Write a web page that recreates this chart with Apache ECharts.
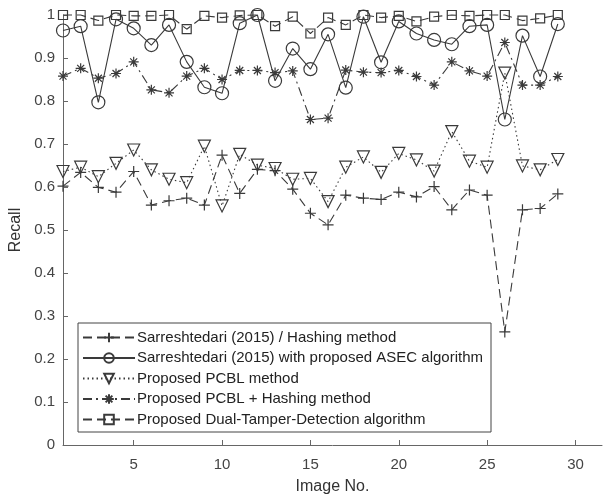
<!DOCTYPE html>
<html>
<head>
<meta charset="utf-8">
<script src="https://cdn.jsdelivr.net/npm/echarts@6/dist/echarts.min.js"></script>
<style>
  html, body { margin: 0; padding: 0; background: #fff; }
  #main { width: 603px; height: 500px; }
</style>
</head>
<body>
<div id="main"></div>
<script>
var imageNo = [1,2,3,4,5,6,7,8,9,10,11,12,13,14,15,16,17,18,19,20,21,22,23,24,25,26,27,28,29];
var xTicks = [5,10,15,20,25,30];

var hashing = [0.602,0.634,0.599,0.588,0.636,0.558,0.568,0.574,0.558,0.674,0.585,0.641,0.638,0.595,0.539,0.512,0.581,0.574,0.571,0.588,0.577,0.601,0.547,0.593,0.581,0.263,0.547,0.550,0.584];
var asec = [0.964,0.974,0.797,0.990,0.969,0.930,0.977,0.891,0.832,0.818,0.981,1.0,0.847,0.922,0.874,0.955,0.831,0.996,0.890,0.985,0.957,0.942,0.932,0.974,0.977,0.757,0.952,0.857,0.979];
var pcbl = [0.636,0.646,0.624,0.655,0.686,0.640,0.618,0.610,0.695,0.556,0.676,0.651,0.643,0.618,0.620,0.566,0.646,0.670,0.634,0.678,0.663,0.637,0.729,0.660,0.646,0.865,0.649,0.640,0.664];
var pcblHash = [0.858,0.876,0.853,0.864,0.891,0.826,0.819,0.858,0.876,0.850,0.871,0.871,0.866,0.870,0.757,0.760,0.872,0.867,0.866,0.871,0.857,0.837,0.891,0.870,0.858,0.936,0.837,0.837,0.857];
var dual = [1.0,1.0,0.987,1.0,0.998,0.998,1.0,0.967,0.998,0.994,0.999,1.0,0.974,0.996,0.957,0.994,0.977,1.0,0.994,0.998,0.985,0.996,1.0,0.998,1.0,1.0,0.987,0.992,1.0];

var seriesNames = [
  'Sarreshtedari (2015) / Hashing method',
  'Sarreshtedari (2015) with proposed ASEC algorithm',
  'Proposed PCBL method',
  'Proposed PCBL + Hashing method',
  'Proposed Dual-Tamper-Detection algorithm'
];

var ink = '#3a3a3a';
var plusPath = 'path://M0,5L10,5M5,0L5,10';
var starPath = 'path://M0,5L10,5M5,0L5,10M1.5,1.5L8.5,8.5M1.5,8.5L8.5,1.5';

function pairs(vals) {
  return vals.map(function (v, i) { return [imageNo[i], v]; });
}

function makeSeries(name, vals, symbol, size, dash, rotate) {
  return {
    name: name,
    type: 'line',
    data: pairs(vals),
    symbol: symbol,
    symbolSize: size,
    symbolRotate: rotate || 0,
    clip: false,
    lineStyle: { color: ink, width: 1.1, type: dash },
    itemStyle: { color: 'rgba(0,0,0,0)', borderColor: ink, borderWidth: 1.2 }
  };
}

var chart = echarts.init(document.getElementById('main'));
var option = {
  animation: false,
  backgroundColor: '#fff',
  textStyle: { fontFamily: 'Liberation Sans, Arial, sans-serif' },
  grid: { left: 63, right: 1, top: 15, bottom: 55, containLabel: false, outerBoundsMode: 'none' },
  legend: {
    orient: 'vertical',
    left: 78,
    top: 323,
    padding: [7, 8, 5, 4],
    itemGap: 5.5,
    itemWidth: 52,
    itemHeight: 12,
    borderColor: '#444',
    borderWidth: 1,
    textStyle: { fontSize: 15, color: '#222', padding: [0, 0, 0, -3] },
    data: seriesNames
  },
  xAxis: {
    type: 'value',
    min: 1,
    max: 31.5,
    name: 'Image No.',
    nameLocation: 'middle',
    nameGap: 34,
    nameTextStyle: { fontSize: 16, color: '#333' },
    axisLine: { lineStyle: { color: '#666' } },
    axisTick: { inside: true, length: 5, customValues: xTicks, lineStyle: { color: '#666' } },
    axisLabel: { customValues: xTicks, fontSize: 15, color: '#444', margin: 12 },
    splitLine: { show: false }
  },
  yAxis: {
    type: 'value',
    min: 0,
    max: 1,
    interval: 0.1,
    name: 'Recall',
    nameLocation: 'middle',
    nameGap: 39,
    nameTextStyle: { fontSize: 16, color: '#333' },
    axisLine: { show: true, lineStyle: { color: '#666' } },
    axisTick: { show: true, inside: true, length: 5, lineStyle: { color: '#666' } },
    axisLabel: {
      fontSize: 15, color: '#444', margin: 8,
      formatter: function (v) { return String(+v.toFixed(1)); }
    },
    splitLine: { show: false }
  },
  series: [
    makeSeries(seriesNames[0], hashing, plusPath, 11, [9, 5]),
    makeSeries(seriesNames[1], asec, 'circle', 13, 'solid'),
    makeSeries(seriesNames[2], pcbl, 'triangle', 12, [1.5, 3], 180),
    makeSeries(seriesNames[3], pcblHash, starPath, 10, [9, 4, 2, 4]),
    makeSeries(seriesNames[4], dual, 'rect', 9, [9, 5])
  ]
};
chart.setOption(option);
</script>
</body>
</html>
